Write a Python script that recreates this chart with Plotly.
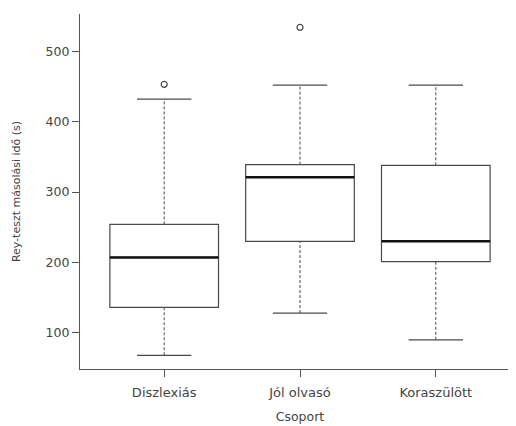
import plotly.graph_objects as go

categories = ["Diszlexiás", "Jól olvasó", "Koraszülött"]
q1 = [136, 230, 201]
median = [207, 321, 230]
q3 = [254, 339, 338]
lower_whisker = [68, 128, 90]
upper_whisker = [432, 452, 452]
outlier_group = [0, 1]
outlier_value = [453, 534]
y_ticks = [100, 200, 300, 400, 500]

pos = list(range(len(categories)))
LINE = "#4a4a4a"
FONT = "DejaVu Sans"

fig = go.Figure()

# boxes (whiskers drawn separately as dashed lines)
fig.add_trace(go.Box(
    x=pos, q1=q1, median=median, q3=q3,
    lowerfence=q1, upperfence=q3,
    width=0.8, fillcolor="rgba(0,0,0,0)",
    line=dict(color=LINE, width=1.2), whiskerwidth=0,
    boxpoints=False, showlegend=False, hoverinfo="skip"))

# dashed whiskers
wx, wy = [], []
for p, a, b, c, d in zip(pos, lower_whisker, q1, q3, upper_whisker):
    wx += [p, p, None, p, p, None]
    wy += [a, b, None, c, d, None]
fig.add_trace(go.Scatter(x=wx, y=wy, mode="lines",
                         line=dict(color=LINE, width=1, dash="3px,2px"),
                         showlegend=False, hoverinfo="skip"))

# whisker caps
cx, cy = [], []
for p, a, d in zip(pos, lower_whisker, upper_whisker):
    cx += [p - 0.2, p + 0.2, None, p - 0.2, p + 0.2, None]
    cy += [a, a, None, d, d, None]
fig.add_trace(go.Scatter(x=cx, y=cy, mode="lines",
                         line=dict(color=LINE, width=1.2),
                         showlegend=False, hoverinfo="skip"))

# thick medians
mx, my = [], []
for p, m in zip(pos, median):
    mx += [p - 0.4, p + 0.4, None]
    my += [m, m, None]
fig.add_trace(go.Scatter(x=mx, y=my, mode="lines",
                         line=dict(color="#111111", width=2.6),
                         showlegend=False, hoverinfo="skip"))

# outliers
fig.add_trace(go.Scatter(x=outlier_group, y=outlier_value, mode="markers",
                         marker=dict(symbol="circle-open", size=6,
                                     color=LINE, line=dict(width=1.2)),
                         showlegend=False, hoverinfo="skip"))

fig.update_layout(
    width=516, height=426,
    margin=dict(l=72, r=4, t=6, b=65, autoexpand=False),
    paper_bgcolor="white", plot_bgcolor="white",
    font=dict(family=FONT, size=12, color="#444444"),
    xaxis=dict(range=[-0.62, 2.62], tickvals=pos, ticktext=categories,
               showgrid=False, zeroline=False, showline=True,
               linecolor="#555555", linewidth=1.2,
               ticks="outside", ticklen=7, tickcolor="#555555",
               tickfont=dict(size=13), ticklabelstandoff=4,
               title=dict(text="Csoport", font=dict(size=12.5), standoff=13)),
    yaxis=dict(range=[48.5, 553], tickvals=y_ticks,
               showgrid=False, zeroline=False, showline=True,
               linecolor="#555555", linewidth=1.2,
               ticks="outside", ticklen=7, tickcolor="#555555",
               tickfont=dict(size=12.5),
               title=dict(text="Rey-teszt másolási idő (s)",
                          font=dict(size=11), standoff=22)),
)

fig.write_html("out.html")
